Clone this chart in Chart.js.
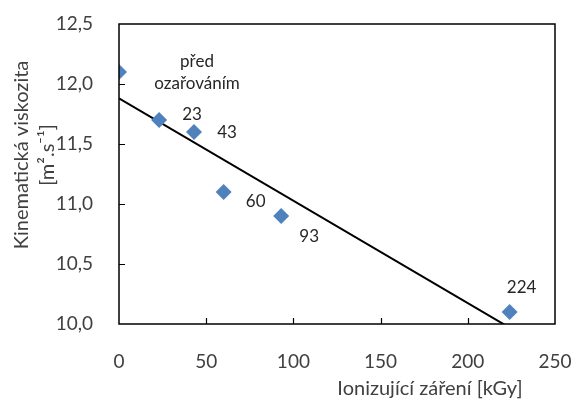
<!DOCTYPE html>
<html>
<head>
<meta charset="utf-8">
<script src="https://cdn.jsdelivr.net/npm/chart.js@4.4.0/dist/chart.umd.min.js"></script>
<style>
html,body{margin:0;padding:0;background:#fff;}
#wrap{width:575px;height:403px;position:relative;}
</style>
</head>
<body>
<div id="wrap"><canvas id="c" width="575" height="403"></canvas></div>
<script>
// Data
const doses = [0, 23, 43, 60, 93, 224];               // kGy
const viscosity = [12.1, 11.7, 11.6, 11.1, 10.9, 10.1]; // m2/s
const pointLabels = [["před", "ozařováním"], ["23"], ["43"], ["60"], ["93"], ["224"]];
const xTicks = [0, 50, 100, 150, 200, 250];
const yTicks = [10.0, 10.5, 11.0, 11.5, 12.0, 12.5];
const xTitle = "Ionizující záření [kGy]";
const yTitle = ["Kinematická viskozita", "[m².s⁻¹]"];

// linear trend from data
const n = doses.length;
const mx = doses.reduce((a,b)=>a+b,0)/n, my = viscosity.reduce((a,b)=>a+b,0)/n;
let sxy=0, sxx=0;
for (let i=0;i<n;i++){ sxy += (doses[i]-mx)*(viscosity[i]-my); sxx += (doses[i]-mx)**2; }
const slope = sxy/sxx, icpt = my - slope*mx;
const trend = [{x:0,y:icpt},{x:250,y:icpt+slope*250}];

const FONT = "Lato, 'Open Sans', sans-serif";
const labelOffsets = [[78,1],[33,-5],[33,1],[32,10],[28,21],[12,-24]];

const deco = {
  id:'deco',
  afterDraw(chart){
    const ctx = chart.ctx, a = chart.chartArea;
    const xs = chart.scales.x, ys = chart.scales.y;
    ctx.save();
    ctx.strokeStyle = '#000'; ctx.lineWidth = 1.5;
    ctx.strokeRect(a.left, a.top, a.right-a.left, a.bottom-a.top);
    ctx.lineWidth = 1.2;
    ctx.beginPath();
    xTicks.slice(1,-1).forEach(v=>{const px=Math.round(xs.getPixelForValue(v))+0.5; ctx.moveTo(px,a.bottom); ctx.lineTo(px,a.bottom-6);});
    yTicks.slice(1,-1).forEach(v=>{const py=Math.round(ys.getPixelForValue(v))+0.5; ctx.moveTo(a.left,py); ctx.lineTo(a.left+6,py);});
    ctx.stroke();
    // point labels
    ctx.fillStyle = '#262626';
    ctx.font = '17px ' + FONT;
    ctx.textAlign = 'center'; ctx.textBaseline = 'middle';
    doses.forEach((d,i)=>{
      const px = xs.getPixelForValue(d), py = ys.getPixelForValue(viscosity[i]);
      const lines = pointLabels[i];
      const lh = 22;
      lines.forEach((t,k)=>{
        ctx.fillText(t, px+labelOffsets[i][0], py+labelOffsets[i][1] + (k-(lines.length-1)/2)*lh);
      });
    });
    // axis titles
    ctx.fillStyle = '#404040';
    ctx.font = '20px ' + FONT;
    ctx.fillText(xTitle, 430, 389);
    ctx.save();
    ctx.translate(22, 155);
    ctx.rotate(-Math.PI/2);
    ctx.fillText(yTitle[0], 0, 0);
    ctx.fillText(yTitle[1], 0, 26);
    ctx.restore();
    ctx.restore();
  }
};

new Chart(document.getElementById('c'), {
  data: {
    datasets: [
      {type:'scatter', data: doses.map((d,i)=>({x:d,y:viscosity[i]})), pointStyle:'rectRot', pointRadius:8, pointHoverRadius:8,
       backgroundColor:'#4F81BD', borderColor:'#4F81BD', borderWidth:0, order:1},
      {type:'line', data: trend, borderColor:'#000', borderWidth:2, pointRadius:0, fill:false, order:2}
    ]
  },
  options: {
    responsive:false, animation:false, devicePixelRatio:1,
    layout:{padding:{top:24, right:20, left:0, bottom:0}},
    plugins:{legend:{display:false}, tooltip:{enabled:false}},
    scales:{
      x:{type:'linear', min:0, max:250,
        afterBuildTicks(s){ s.ticks = xTicks.map(v=>({value:v})); },
        afterFit(s){ s.height = 79; s.paddingLeft = 0; s.paddingRight = 0; },
        grid:{display:false}, border:{display:false},
        ticks:{padding:18, color:'#404040', font:{family:FONT, size:19}, callback:v=>String(v)}},
      y:{type:'linear', min:10, max:12.5,
        afterBuildTicks(s){ s.ticks = yTicks.map(v=>({value:v})); },
        afterFit(s){ s.width = 119; s.paddingTop = 0; s.paddingBottom = 0; },
        grid:{display:false}, border:{display:false},
        ticks:{padding:18, color:'#404040', font:{family:FONT, size:19}, callback:v=>v.toFixed(1).replace('.',',')}}
    }
  },
  plugins:[deco]
});
</script>
</body>
</html>
